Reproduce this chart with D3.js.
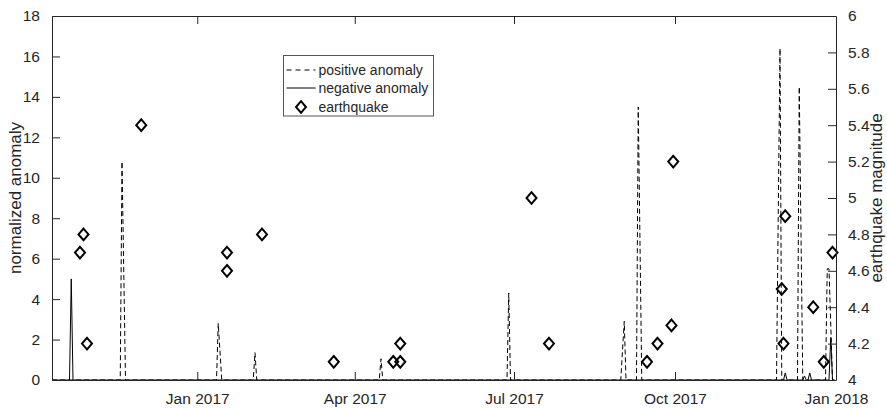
<!DOCTYPE html>
<html>
<head>
<meta charset="utf-8">
<script src="https://cdn.jsdelivr.net/npm/d3@7"></script>
<style>
  body { margin: 0; background: #fff; }
  svg { font-family: "Liberation Sans", Arial, sans-serif; }
</style>
</head>
<body>
<svg id="chart" width="887" height="408"></svg>
<script>
// positive anomaly (dashed)
const posDates = ["2016-10-10", "2016-11-18", "2016-11-19", "2016-11-21",
  "2017-01-12", "2017-01-13", "2017-01-15", "2017-02-02", "2017-02-03", "2017-02-04",
  "2017-04-15", "2017-04-16", "2017-04-17", "2017-06-27", "2017-06-28", "2017-06-29",
  "2017-08-31", "2017-09-02", "2017-09-03", "2017-09-09", "2017-09-10", "2017-09-12",
  "2017-11-28", "2017-11-30", "2017-12-01", "2017-12-10", "2017-12-11", "2017-12-13",
  "2017-12-26", "2017-12-27", "2017-12-28", "2017-12-30", "2017-12-31"];
const posValues = [0, 0, 10.8, 0,
  0, 2.8, 0, 0, 1.35, 0,
  0, 1.05, 0, 0, 4.3, 0,
  0, 2.9, 0, 0, 13.5, 0,
  0, 16.4, 0, 0, 14.5, 0,
  0, 5.5, 5.5, 0, 0];

// negative anomaly (solid)
const negDates = ["2016-10-10", "2016-10-20", "2016-10-21", "2016-10-22",
  "2017-12-02", "2017-12-03", "2017-12-04", "2017-12-13", "2017-12-14", "2017-12-15",
  "2017-12-16", "2017-12-17", "2017-12-18", "2017-12-28", "2017-12-29", "2017-12-30",
  "2017-12-31"];
const negValues = [0, 0, 5.0, 0,
  0, 0.35, 0, 0, 0.2, 0,
  0, 0.35, 0, 0, 2.1, 0,
  0];

// earthquakes (right axis)
const quakeDates = ["2016-10-26", "2016-10-28", "2016-10-30", "2016-11-30",
  "2017-01-18", "2017-01-18", "2017-02-07", "2017-03-20", "2017-04-23", "2017-04-27",
  "2017-04-27", "2017-07-11", "2017-07-21", "2017-09-15", "2017-09-21", "2017-09-29",
  "2017-09-30", "2017-12-01", "2017-12-02", "2017-12-03", "2017-12-19", "2017-12-25",
  "2017-12-30"];
const quakeMags = [4.7, 4.8, 4.2, 5.4,
  4.7, 4.6, 4.8, 4.1, 4.1, 4.1,
  4.2, 5.0, 4.2, 4.1, 4.2, 4.3,
  5.2, 4.5, 4.2, 4.9, 4.4, 4.1,
  4.7];

const xTicks = ["2017-01-01", "2017-04-01", "2017-07-01", "2017-10-01", "2018-01-01"];
const leftTicks = [0, 2, 4, 6, 8, 10, 12, 14, 16, 18];
const rightTicks = [4, 4.2, 4.4, 4.6, 4.8, 5, 5.2, 5.4, 5.6, 5.8, 6];
const legendLabels = ["positive anomaly", "negative anomaly", "earthquake"];

const parse = d3.timeParse("%Y-%m-%d");

const svg = d3.select("#chart"),
  margin = {top: 16, right: 51, bottom: 28, left: 52},
  width = 887 - margin.left - margin.right,
  height = 408 - margin.top - margin.bottom;

const axisColor = "#262626";

const x = d3.scaleTime()
  .domain([parse("2016-10-10"), parse("2018-01-01")])
  .range([0, width]);
const yL = d3.scaleLinear().domain([0, 18]).range([height, 0]);
const yR = d3.scaleLinear().domain([4, 6]).range([height, 0]);

const g = svg.append("g")
  .attr("transform", "translate(" + margin.left + "," + margin.top + ")");

g.append("clipPath").attr("id", "clip")
  .append("rect").attr("x", 0).attr("y", -1).attr("width", width).attr("height", height + 2);

const pos = posDates.map((d, i) => ({date: parse(d), v: posValues[i]}));
const neg = negDates.map((d, i) => ({date: parse(d), v: negValues[i]}));
const quakes = quakeDates.map((d, i) => ({date: parse(d), m: quakeMags[i]}));

const line = d3.line().x(d => x(d.date)).y(d => yL(d.v));

const plot = g.append("g").attr("clip-path", "url(#clip)");

plot.append("path")
  .datum(neg)
  .attr("fill", "none")
  .attr("stroke", "#000")
  .attr("stroke-width", 1)
  .attr("d", line);

plot.append("path")
  .datum(pos)
  .attr("fill", "none")
  .attr("stroke", "#000")
  .attr("stroke-width", 1)
  .attr("stroke-dasharray", "5,3")
  .attr("d", line);

const diamond = "M0,-5.8L5,0L0,5.8L-5,0Z";

g.selectAll(".quake")
  .data(quakes)
  .enter().append("path")
  .attr("class", "quake")
  .attr("transform", d => "translate(" + x(d.date) + "," + yR(d.m) + ")")
  .attr("d", diamond)
  .attr("fill", "none")
  .attr("stroke", "#000")
  .attr("stroke-width", 2);

// axes (MATLAB style: ticks pointing inward, box on)
const tickLen = 8;
const fontSize = "15.5px";

const xAxisB = g.append("g")
  .attr("transform", "translate(0," + height + ")")
  .call(d3.axisBottom(x)
    .tickValues(xTicks.map(parse))
    .tickFormat(d3.timeFormat("%b %Y"))
    .tickSizeInner(-tickLen).tickSizeOuter(0).tickPadding(tickLen + 5));

const xAxisT = g.append("g")
  .call(d3.axisTop(x)
    .tickValues(xTicks.map(parse))
    .tickFormat("")
    .tickSizeInner(-tickLen).tickSizeOuter(0));

const yAxisL = g.append("g")
  .call(d3.axisLeft(yL)
    .tickValues(leftTicks)
    .tickFormat(d3.format("d"))
    .tickSizeInner(-tickLen).tickSizeOuter(0).tickPadding(tickLen + 4));

const yAxisR = g.append("g")
  .attr("transform", "translate(" + width + ",0)")
  .call(d3.axisRight(yR)
    .tickValues(rightTicks)
    .tickFormat(d => d3.format("~g")(d))
    .tickSizeInner(-tickLen).tickSizeOuter(0).tickPadding(tickLen + 4));

[xAxisB, xAxisT, yAxisL, yAxisR].forEach(a => {
  a.select(".domain").attr("stroke", axisColor);
  a.selectAll(".tick line").attr("stroke", axisColor);
  a.selectAll(".tick text")
    .attr("fill", axisColor)
    .style("font-size", fontSize)
    .style("font-family", "'Liberation Sans', Arial, sans-serif");
});
// the bottom tick at Jan 2018 sits on the right edge
xAxisT.selectAll(".tick line").filter(d => +d === +parse("2018-01-01")).remove();

// axis titles
g.append("text")
  .attr("transform", "translate(" + (-31) + "," + (height / 2) + ") rotate(-90)")
  .attr("text-anchor", "middle")
  .attr("fill", axisColor)
  .style("font-size", "17px")
  .text("normalized anomaly");

g.append("text")
  .attr("transform", "translate(" + (width + 46) + "," + (height / 2) + ") rotate(-90)")
  .attr("text-anchor", "middle")
  .attr("fill", axisColor)
  .style("font-size", "17px")
  .text("earthquake magnitude");

// legend
const legend = svg.append("g").attr("transform", "translate(283.5,55.5)");
legend.append("rect")
  .attr("width", 150).attr("height", 60.5)
  .attr("fill", "#fff").attr("stroke", "#555").attr("stroke-width", 1);

const rowsY = [14.5, 32.5, 51.5];
legend.append("line")
  .attr("x1", 3).attr("x2", 32).attr("y1", rowsY[0]).attr("y2", rowsY[0])
  .attr("stroke", "#000").attr("stroke-dasharray", "5,4");
legend.append("line")
  .attr("x1", 3).attr("x2", 32).attr("y1", rowsY[1]).attr("y2", rowsY[1])
  .attr("stroke", "#000");
legend.append("path")
  .attr("transform", "translate(17.5," + rowsY[2] + ")")
  .attr("d", diamond)
  .attr("fill", "none").attr("stroke", "#000").attr("stroke-width", 2);

legend.selectAll(".ltext")
  .data(legendLabels)
  .enter().append("text")
  .attr("x", 35)
  .attr("y", (d, i) => rowsY[i] + 5)
  .attr("fill", axisColor)
  .style("font-size", "14px")
  .text(d => d);
</script>
</body>
</html>
